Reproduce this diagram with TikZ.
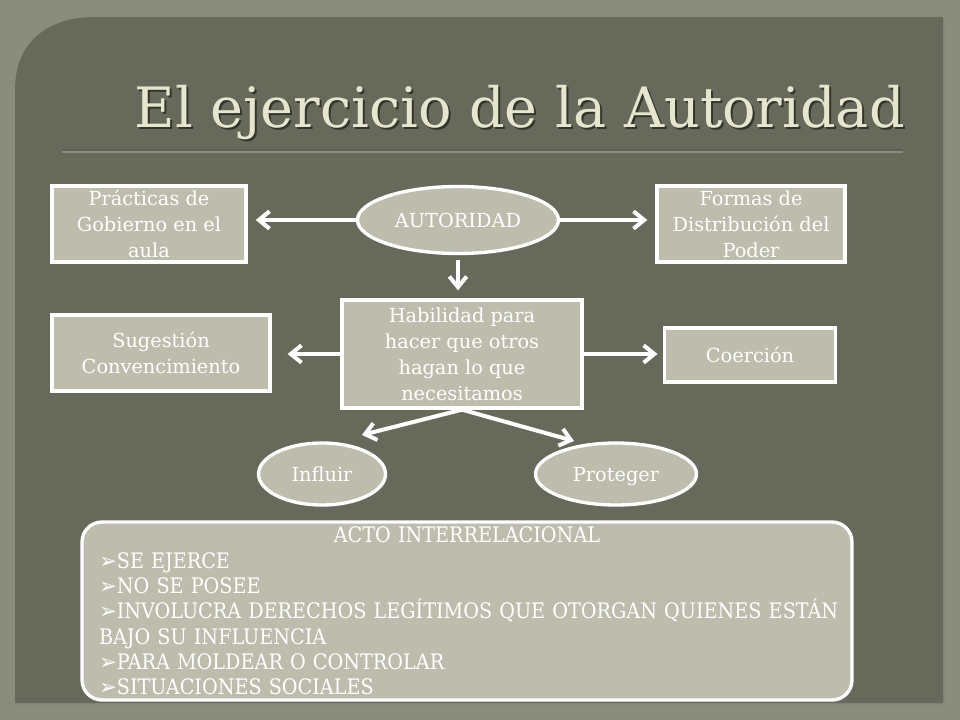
\documentclass[tikz,border=0pt]{standalone}
\usepackage{fontspec}
\setmainfont{DejaVu Serif}
\newfontfamily\condfont{DejaVu Serif Condensed}
\newfontfamily\symfont{DejaVu Sans}
\usetikzlibrary{arrows.meta,shapes.geometric,shadows}
\definecolor{slidebg}{HTML}{8A8D7B}
\definecolor{panelfill}{HTML}{676A5B}
\definecolor{boxfill}{HTML}{BDBCAD}
\definecolor{titlefill}{HTML}{E6E6CF}
\definecolor{titleshade}{HTML}{34362E}
\newcommand{\bul}{{\symfont ➢}}

\tikzset{
  box/.style={rectangle, draw=white, line width=2.5pt, fill=boxfill, text=white,
    align=center, inner sep=0pt, font=\fontsize{14.5}{19.5}\selectfont,
    drop shadow={shadow xshift=1pt, shadow yshift=-1.5pt, opacity=0.35}},
  oval/.style={box, ellipse},
  link/.style={draw=white, line width=3pt, -{Straight Barb[length=8pt,width=13pt]}},
}

\begin{document}
\begin{tikzpicture}[x=0.75pt,y=-0.75pt]
    \fill[slidebg] (0,0) rectangle (960,720);
    \fill[panelfill, drop shadow={shadow xshift=1.5pt, shadow yshift=-1.5pt, opacity=0.4}]
      (15,703) -- (15,90) .. controls (15,40) and (50,17) .. (95,17) -- (943,17) -- (943,703) -- cycle;
    % title
    \node[font=\fontsize{41.7}{42}\selectfont, text=titleshade, anchor=base west] (titleshadow) at (132,130) {El ejercicio de la Autoridad};
    \node[font=\fontsize{41.7}{42}\selectfont, text=titlefill, anchor=base west] (title) at (130,128) {El ejercicio de la Autoridad};
    \draw[line width=1.2pt, color=titleshade!80] (62,150) -- (903,150);
    \draw[line width=0.8pt, color=slidebg] (62,152) -- (903,152);
    % first row
    \node[box, minimum width=145.5pt, minimum height=57pt] (prac) at (149,224) {Prácticas de\\Gobierno en el\\aula};
    \node[oval, minimum width=150.75pt, minimum height=50.25pt] (auto) at (458,220) {AUTORIDAD};
    \node[box, minimum width=141pt, minimum height=57pt] (formas) at (751,224) {Formas de\\Distribución del\\Poder};
    % second row
    \node[box, minimum width=163.5pt, minimum height=57pt] (suges) at (161,353) {Sugestión\\Convencimiento};
    \node[box, minimum width=180pt, minimum height=81pt] (habil) at (462,354) {Habilidad para\\hacer que otros\\hagan lo que\\necesitamos};
    \node[box, minimum width=128.25pt, minimum height=40.5pt] (coer) at (750,355) {Coerción};
    % third row
    \node[oval, minimum width=95.25pt, minimum height=46.5pt] (influir) at (322,474) {Influir};
    \node[oval, minimum width=120.75pt, minimum height=46.5pt, text depth=0pt] (proteger) at (616,474) {Proteger};
    \coordinate (influir tip) at (362,435);
    \coordinate (proteger tip) at (574,441);
    % arrows
    \draw[link, shorten >=6pt] (auto.west) -- (auto.west -| prac.east);
    \draw[link, shorten >=6pt] (auto.east) -- (auto.east -| formas.west);
    \draw[link, shorten <=4pt, shorten >=6pt] (auto.south) -- (auto.south |- habil.north);
    \draw[link, shorten >=12pt] (habil.west) -- (habil.west -| suges.east);
    \draw[link, shorten >=4pt] (habil.east) -- (habil.east -| coer.west);
    \draw[link] (habil.south) -- (influir tip);
    \draw[link] (habil.south) -- (proteger tip);
    % bottom box
    \node[box, rounded corners=15pt, minimum width=577.5pt, minimum height=133.5pt,
      align=left, text width=552pt, font=\condfont\fontsize{16}{19}\selectfont] (acto) at (467,611)
      {\makebox[\linewidth]{ACTO INTERRELACIONAL}\\
       \bul SE EJERCE\\
       \bul NO SE POSEE\\
       \makebox[\linewidth][l]{\bul INVOLUCRA DERECHOS LEGÍTIMOS QUE OTORGAN QUIENES ESTÁN}\\
       BAJO SU INFLUENCIA\\
       \bul PARA MOLDEAR O CONTROLAR\\
       \bul SITUACIONES SOCIALES};
\end{tikzpicture}
\end{document}
